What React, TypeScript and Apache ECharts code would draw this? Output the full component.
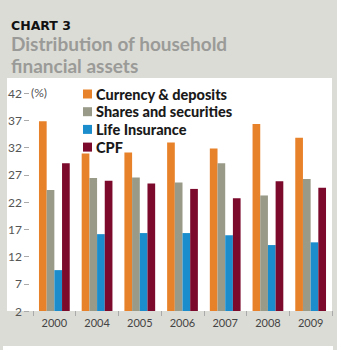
import React, { useEffect, useRef } from "react";
import * as echarts from "echarts";

const years = ["2000", "2004", "2005", "2006", "2007", "2008", "2009"];
const currencyDeposits = [36.8, 30.9, 31.1, 32.9, 31.8, 36.3, 33.8];
const sharesSecurities = [24.2, 26.4, 26.5, 25.6, 29.1, 23.2, 26.2];
const lifeInsurance = [9.5, 16.1, 16.3, 16.3, 15.9, 14.1, 14.6];
const cpf = [29.1, 25.9, 25.4, 24.4, 22.7, 25.8, 24.6];
const seriesNames = ["Currency & deposits", "Shares and securities", "Life Insurance", "CPF"];
const seriesColors = ["#e8822a", "#999a88", "#1b8dcc", "#7b0a2c"];

export default function App() {
  const ref = useRef<HTMLDivElement>(null);
  useEffect(() => {
    if (!ref.current) return;
    const chart = echarts.init(ref.current, undefined, { renderer: "svg" });
    const data = [currencyDeposits, sharesSecurities, lifeInsurance, cpf];
    chart.setOption({
      animation: false,
      backgroundColor: "#dcdcd6",
      textStyle: { fontFamily: "Lato" },
      graphic: [
        { type: "rect", z: -10, shape: { x: 7, y: 78, width: 325, height: 233 }, style: { fill: "#ffffff" } },
        { type: "rect", z: -10, shape: { x: 3, y: 346, width: 330, height: 4 }, style: { fill: "#ffffff" } },
        { type: "text", x: 11, y: 25, style: { text: "CHART 3", fill: "#111", font: "bold 12.5px 'DejaVu Sans'", verticalAlign: "middle" } },
        { type: "text", x: 11, y: 43.5, style: { text: "Distribution of household", fill: "#9a9b98", font: "bold 19px Lato", verticalAlign: "middle" } },
        { type: "text", x: 11, y: 65, style: { text: "financial assets", fill: "#9a9b98", font: "bold 19px Lato", verticalAlign: "middle" } },
        { type: "text", x: 31, y: 86, style: { text: "(%)", fill: "#555", font: "12px Lato" } },
      ],
      legend: {
        orient: "vertical",
        left: 83,
        top: 86.5,
        padding: 0,
        itemWidth: 9,
        itemHeight: 9,
        itemGap: 2.7,
        icon: "rect",
        textStyle: { fontFamily: "Lato", fontWeight: 900, fontSize: 14.5, color: "#1a1a1a", lineHeight: 13, padding: [0, 0, 0, -1] },
        data: seriesNames,
      },
      grid: { left: 33, right: 5, top: 93, bottom: 39 },
      xAxis: {
        type: "category",
        data: years,
        axisLine: { show: false },
        axisTick: { show: true, length: 5, lineStyle: { color: "#aaa" } },
        axisLabel: { color: "#444", fontSize: 11, margin: 6, fontFamily: "Lato" },
      },
      yAxis: {
        type: "value",
        min: 2,
        max: 42,
        interval: 5,
        offset: 4,
        axisLine: { show: false },
        axisTick: { show: true, length: 5, lineStyle: { color: "#aaa" } },
        splitLine: { show: false },
        axisLabel: { color: "#555", fontSize: 12, margin: 7, fontFamily: "Lato" },
      },
      series: seriesNames.map((name, i) => ({
        name,
        type: "bar",
        data: data[i],
        itemStyle: { color: seriesColors[i] },
        barGap: "0%",
        barCategoryGap: "28%",
      })),
    });
    return () => chart.dispose();
  }, []);
  return <div ref={ref} style={{ position: "fixed", left: 0, top: 0, width: 337, height: 350 }} />;
}
